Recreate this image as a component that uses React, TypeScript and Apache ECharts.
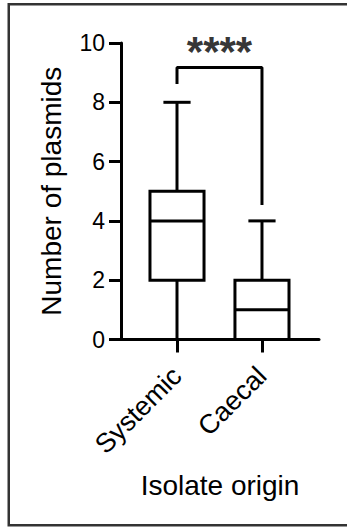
import React, { useEffect, useRef } from "react";
import * as echarts from "echarts";

const categories = ["Systemic", "Caecal"];
const mins = [0, 0];
const q1s = [2, 0];
const medians = [4, 1];
const q3s = [5, 2];
const maxs = [8, 4];
const yTicks = [0, 2, 4, 6, 8, 10];
const bracket = [
  [0, 8.62],
  [0, 9.17],
  [1, 9.17],
  [1, 4.54],
];
const significance = "****";

const FONT = '"Liberation Sans", Arial, Helvetica, sans-serif';

export default function App() {
  const ref = useRef<HTMLDivElement>(null);
  useEffect(() => {
    if (!ref.current) return;
    const chart = echarts.init(ref.current, null, { renderer: "svg" });
    const boxData = categories.map((_, i) => [i, mins[i], q1s[i], medians[i], q3s[i], maxs[i]]);
    const option: any = {
      animation: false,
      backgroundColor: "#fff",
      textStyle: { fontFamily: FONT },
      graphic: [
        {
          type: "rect",
          shape: { x: 8.75, y: 4.2, width: 345, height: 521 },
          style: { fill: "none", stroke: "#333", lineWidth: 2.5 },
          z: 0,
        },
      ],
      grid: { left: 121, right: 28, top: 43, bottom: 187.5, containLabel: false },
      xAxis: {
        type: "value",
        min: -0.659,
        max: 1.671,
        splitLine: { show: false },
        axisLine: { show: true, onZero: false, lineStyle: { color: "#000", width: 3 } },
        axisTick: { show: true, customValues: [0, 1], length: 13, lineStyle: { color: "#000", width: 3 } },
        axisLabel: {
          customValues: [0, 1],
          formatter: (v: number) => categories[Math.round(v)] ?? "",
          rotate: 45,
          fontSize: 27,
          color: "#000",
          margin: 32,
          fontFamily: FONT,
        },
        name: "Isolate origin",
        nameLocation: "middle",
        nameGap: 132,
        nameTextStyle: { fontSize: 28, color: "#000", fontFamily: FONT },
      },
      yAxis: {
        type: "value",
        min: yTicks[0],
        max: yTicks[yTicks.length - 1],
        interval: 2,
        splitLine: { show: false },
        axisLine: { show: true, onZero: false, lineStyle: { color: "#000", width: 3 } },
        axisTick: { show: true, length: 12, lineStyle: { color: "#000", width: 3 } },
        axisLabel: { fontSize: 23, color: "#000", margin: 16, fontFamily: FONT },
        name: "Number of plasmids",
        nameLocation: "middle",
        nameGap: 56,
        nameTextStyle: { fontSize: 28, color: "#000", fontFamily: FONT },
      },
      series: [
        {
          type: "custom",
          data: boxData,
          encode: { x: 0, y: [1, 2, 3, 4, 5] },
          renderItem: (params: any, api: any) => {
            const x = api.value(0);
            const mn = api.value(1);
            const q1 = api.value(2);
            const md = api.value(3);
            const q3 = api.value(4);
            const mx = api.value(5);
            const hw = 0.318;
            const cw = 0.16;
            const [xl, yq3] = api.coord([x - hw, q3]);
            const [xr, yq1] = api.coord([x + hw, q1]);
            const [xc, ymd] = api.coord([x, md]);
            const [, ymx] = api.coord([x, mx]);
            const [, ymn] = api.coord([x, mn]);
            const [cl] = api.coord([x - cw, mx]);
            const [cr] = api.coord([x + cw, mx]);
            const st = { stroke: "#000", lineWidth: 3, fill: "none" };
            const children: any[] = [
              { type: "line", shape: { x1: xc, y1: yq3, x2: xc, y2: ymx }, style: st },
              { type: "line", shape: { x1: cl, y1: ymx, x2: cr, y2: ymx }, style: st },
              { type: "line", shape: { x1: xc, y1: yq1, x2: xc, y2: ymn }, style: st },
              {
                type: "rect",
                shape: { x: xl, y: yq3, width: xr - xl, height: yq1 - yq3 },
                style: { fill: "#fff", stroke: "#000", lineWidth: 3 },
              },
              { type: "line", shape: { x1: xl, y1: ymd, x2: xr, y2: ymd }, style: st },
            ];
            return { type: "group", children };
          },
          z: 3,
        },
        {
          type: "line",
          data: bracket,
          symbol: "none",
          lineStyle: { color: "#000", width: 3 },
          silent: true,
          z: 3,
        },
        {
          type: "scatter",
          data: [[0.5, 9.72]],
          symbolSize: 1,
          itemStyle: { color: "rgba(0,0,0,0)" },
          label: {
            show: true,
            position: "inside",
            formatter: () => significance,
            fontSize: 42,
            fontWeight: "bold",
            color: "#000",
            fontFamily: FONT,
          },
          silent: true,
          z: 4,
        },
      ],
    };
    chart.setOption(option);
    return () => chart.dispose();
  }, []);
  return (
    <div
      ref={ref}
      style={{ position: "fixed", left: 0, top: 0, width: 347, height: 527 }}
    />
  );
}
